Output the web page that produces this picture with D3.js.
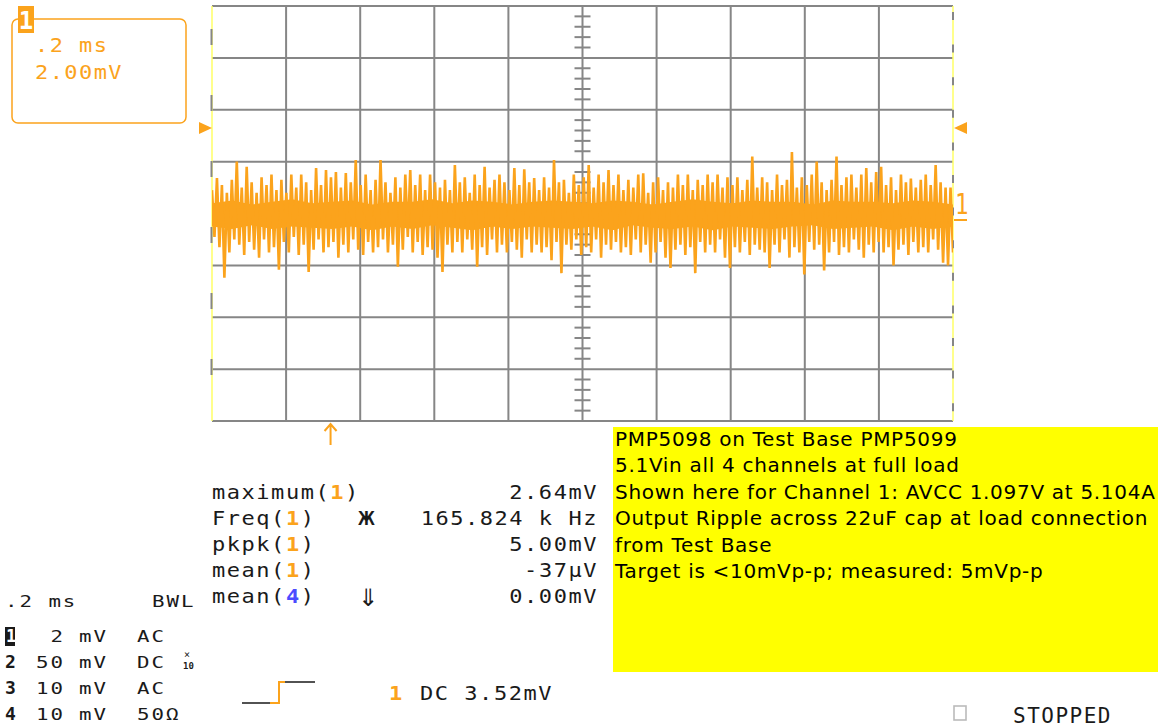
<!DOCTYPE html>
<html><head><meta charset="utf-8">
<script src="https://cdn.jsdelivr.net/npm/d3@7"></script>
<style>
html,body{margin:0;padding:0;background:#fff;}
svg{display:block;}
</style></head><body>
<svg id="c" width="1167" height="728"></svg>
<script>
// ---- data ----
const traceValues = [
0.9,-0.9,1.37,-1.3,1.1,-2.48,0.8,-1.5,1.3,-1.0,2.0,-1.2,1.0,-1.6,1.8,-1.1,1.2,-1.4,0.8,-1.7,
1.4,-1.0,1.1,-1.5,1.5,-1.3,0.9,-2.17,1.3,-1.1,0.8,-1.5,1.5,-0.9,1.0,-1.6,1.5,-1.2,1.2,-2.25,
0.9,-1.4,1.75,-1.0,1.1,-1.5,1.68,-1.3,1.4,-1.1,1.6,-1.7,1.0,-1.2,1.56,-1.5,1.2,-1.0,2.06,-1.4,
1.1,-1.6,1.5,-1.1,0.9,-1.5,1.3,-1.3,2.06,-1.0,1.2,-1.5,0.8,-1.2,1.4,-2.05,1.0,-1.4,1.5,-0.9,
1.68,-1.5,1.1,-1.1,1.5,-1.6,0.9,-1.3,1.5,-1.4,1.2,-1.7,1.0,-2.25,1.3,-1.2,0.9,-1.5,1.87,-1.1,
1.2,-1.5,1.4,-1.0,0.8,-1.4,1.5,-2.05,1.1,-1.3,1.8,-1.6,1.0,-1.0,1.3,-1.5,1.5,-1.2,1.2,-1.5,
0.9,-1.1,1.75,-1.4,1.1,-1.7,1.7,-1.0,1.2,-1.5,1.37,-1.2,0.9,-1.5,1.4,-1.3,1.0,-1.8,2.06,-1.1,
1.2,-2.3,1.3,-1.2,0.8,-1.4,1.5,-1.0,1.1,-1.6,1.4,-1.3,1.87,-1.5,1.0,-1.0,1.5,-1.7,1.2,-1.2,
1.68,-1.4,1.1,-1.1,1.5,-1.5,0.9,-1.3,1.3,-1.6,1.0,-1.0,1.5,-1.5,1.55,-1.2,0.8,-1.9,1.2,-1.5,
1.4,-1.1,0.9,-1.7,1.2,-2.1,1.0,-1.4,1.5,-1.2,1.1,-1.6,1.5,-1.3,0.9,-2.3,1.3,-1.1,1.1,-1.5,
1.5,-1.2,1.2,-1.5,1.5,-1.0,1.0,-1.7,1.4,-2.1,1.1,-1.3,1.4,-1.5,0.9,-1.1,1.3,-1.6,2.2,-1.2,
1.0,-1.4,1.4,-1.5,1.2,-2.1,0.9,-1.2,1.5,-1.5,1.1,-1.0,1.3,-1.7,2.37,-1.3,1.0,-1.5,1.4,-2.35,
1.1,-1.1,1.5,-1.4,2.0,-1.2,1.2,-2.2,0.9,-1.5,1.3,-1.1,2.2,-1.6,1.1,-1.3,1.4,-1.5,1.5,-1.0,
1.0,-1.4,1.5,-1.7,1.75,-1.2,1.2,-1.5,1.6,-1.1,1.8,-1.5,1.1,-1.3,1.4,-2.0,0.9,-1.4,1.5,-1.2,
1.2,-1.6,1.35,-1.1,1.0,-1.5,1.3,-1.3,1.5,-1.5,1.1,-1.0,1.87,-1.4,1.2,-1.9,1.0,-2.0,1.0,-1.5
];
// dense 165 kHz ripple band (solid-looking core of the trace), upper / lower edge
const coreUpper = [0.4,0.5,0.35,0.45,0.55,0.4,0.45,0.5,0.35,0.45,0.45,0.55,0.4,0.5,0.45,0.35,0.45,0.5,0.45,0.4,
  0.5,0.45,0.35,0.45,0.55,0.45,0.4,0.5,0.45,0.45,0.35,0.5,0.45,0.45,0.4,0.5,0.45,0.35];
const coreLower = [-0.5,-0.6,-0.45,-0.6,-0.5,-0.55,-0.6,-0.5,-0.65,-0.5,-0.6,-0.45,-0.55,-0.65,-0.5,-0.6,-0.5,-0.55,-0.6,-0.5,
  -0.65,-0.45,-0.55,-0.6,-0.5,-0.65,-0.5,-0.55,-0.6,-0.5,-0.45,-0.6,-0.55,-0.5,-0.65,-0.5,-0.6,-0.5];
const timeDivs = 10;          // horizontal divisions
const voltDivs = 8;           // vertical divisions
const timePerDiv = 0.2;       // ms/div
const voltsPerDiv = 2;        // mV/div
const minorPerDiv = 5;
const triggerTime = 0.32;     // ms (arrow below grid)
const triggerLevel = 3.3;     // mV (side triangles)
const channelZero = -0.25;    // mV (channel 1 marker)
const boxLines = [".2 ms", "2.00mV"];
const measureLabels = ["maximum(", "Freq(", "pkpk(", "mean(", "mean("];
const measureChannels = ["1", "1", "1", "1", "4"];
const measureSymbols = ["", "Ж", "", "", "⇓"];
const measureValues = ["2.64mV", "165.824 k Hz", "5.00mV", "-37µV", "0.00mV"];
const timebaseLabel = ".2 ms";
const bwlLabel = "BWL";
const chanNums = ["1", "2", "3", "4"];
const chanScale = ["2", "50", "10", "10"];
const chanUnit = ["mV", "mV", "mV", "mV"];
const chanCoupling = ["AC", "DC", "AC", "50Ω"];
const triggerInfo = ["1", "DC 3.52mV"];
const statusLabel = "STOPPED";
const noteLines = [
  "PMP5098 on Test Base PMP5099",
  "5.1Vin all 4 channels at full load",
  "Shown here for Channel 1: AVCC 1.097V at 5.104A",
  "Output Ripple across 22uF cap at load connection",
  "from Test Base",
  "Target is <10mVp-p; measured: 5mVp-p"
];

// ---- drawing ----
const ORANGE = "#fba31c";
const GRID = "#868686";
const INK = "#1a1a1a";
const MONO = "'DejaVu Sans Mono', monospace";
const svg = d3.select("#c");

function mtext(parent, px, py, str, o) {
  o = Object.assign({size: 20, sx: 1.1, ls: 1.4, anchor: "start", fill: INK, weight: "normal"}, o || {});
  const t = parent.append("text")
    .attr("transform", `translate(${px},${py}) scale(${o.sx},1)`)
    .attr("font-family", MONO).attr("font-size", o.size).attr("letter-spacing", o.ls)
    .attr("text-anchor", o.anchor).attr("fill", o.fill).attr("font-weight", o.weight);
  if (str !== null) t.text(str);
  return t;
}

const tMax = timeDivs * timePerDiv;
const vHalf = voltDivs / 2 * voltsPerDiv;
const x = d3.scaleLinear().domain([0, tMax]).range([212, 953]);
const y = d3.scaleLinear().domain([-vHalf, vHalf]).range([421, 6]);

const gGrid = svg.append("g");
gGrid.selectAll("line.v").data(d3.range(1, timeDivs)).join("line")
  .attr("x1", d => x(d * timePerDiv)).attr("x2", d => x(d * timePerDiv))
  .attr("y1", y(vHalf)).attr("y2", y(-vHalf))
  .attr("stroke", GRID).attr("stroke-width", 2);
gGrid.selectAll("line.h").data(d3.range(0, voltDivs + 1)).join("line")
  .attr("x1", x(0)).attr("x2", x(tMax))
  .attr("y1", d => y(-vHalf + d * voltsPerDiv)).attr("y2", d => y(-vHalf + d * voltsPerDiv))
  .attr("stroke", GRID).attr("stroke-width", 2);
gGrid.append("line").attr("x1", x(0)).attr("x2", x(0)).attr("y1", y(vHalf)).attr("y2", y(-vHalf))
  .attr("stroke", "#ffff66").attr("stroke-width", 1.5);
gGrid.append("line").attr("x1", x(tMax)).attr("x2", x(tMax)).attr("y1", y(vHalf)).attr("y2", y(-vHalf))
  .attr("stroke", "#ffff66").attr("stroke-width", 1.5);
gGrid.append("line").attr("x1", x(0) - 0.5).attr("x2", x(0) - 0.5).attr("y1", 29).attr("y2", y(-vHalf))
  .attr("stroke", GRID).attr("stroke-width", 2).attr("stroke-dasharray", "16,50");
gGrid.append("line").attr("x1", x(tMax)).attr("x2", x(tMax)).attr("y1", 12).attr("y2", y(-vHalf))
  .attr("stroke", GRID).attr("stroke-width", 2).attr("stroke-dasharray", "8,24.6");

const yMinor = d3.range(0, voltDivs * minorPerDiv + 1).filter(i => i % minorPerDiv !== 0)
  .map(i => -vHalf + i * voltsPerDiv / minorPerDiv);
const xMinor = d3.range(0, timeDivs * minorPerDiv + 1).filter(i => i % minorPerDiv !== 0)
  .map(i => i * timePerDiv / minorPerDiv);
const cx = x(tMax / 2), cy = y(0);
gGrid.selectAll("line.ty").data(yMinor).join("line")
  .attr("x1", cx - 8).attr("x2", cx + 8).attr("y1", d => y(d)).attr("y2", d => y(d))
  .attr("stroke", GRID).attr("stroke-width", 2);
gGrid.selectAll("line.tx").data(xMinor).join("line")
  .attr("y1", cy - 8).attr("y2", cy + 8).attr("x1", d => x(d)).attr("x2", d => x(d))
  .attr("stroke", GRID).attr("stroke-width", 2);

// trace
svg.append("clipPath").attr("id", "clip").append("rect")
  .attr("x", x(0)).attr("y", y(vHalf)).attr("width", x(tMax) - x(0)).attr("height", y(-vHalf) - y(vHalf));
const nc = coreUpper.length;
const area = d3.area().x((d, i) => x(i * tMax / (nc - 1)))
  .y0((d, i) => y(coreLower[i])).y1(d => y(d));
svg.append("path").datum(coreUpper).attr("d", area).attr("clip-path", "url(#clip)").attr("fill", ORANGE);
const n = traceValues.length;
const line = d3.line().x((d, i) => x(i * tMax / (n - 1))).y(d => y(d));
svg.append("path").datum(traceValues).attr("d", line).attr("clip-path", "url(#clip)")
  .attr("fill", "none").attr("stroke", ORANGE).attr("stroke-width", 2.6).attr("stroke-linejoin", "miter").attr("stroke-miterlimit", 2);

// trigger level triangles
const ty = y(triggerLevel);
svg.append("path").attr("d", `M${x(0)-13},${ty-6} L${x(0)},${ty} L${x(0)-13},${ty+6} Z`).attr("fill", ORANGE);
svg.append("path").attr("d", `M${x(tMax)+14},${ty-6} L${x(tMax)+1},${ty} L${x(tMax)+14},${ty+6} Z`).attr("fill", ORANGE);
mtext(svg, x(tMax) + 2, y(channelZero) - 6, "1", {size: 28, sx: 0.8, ls: 0, fill: ORANGE});
svg.append("line").attr("x1", x(tMax) + 1).attr("x2", x(tMax) + 14)
  .attr("y1", y(channelZero)).attr("y2", y(channelZero)).attr("stroke", ORANGE).attr("stroke-width", 2);
const tx = x(triggerTime), by0 = y(-vHalf);
svg.append("path").attr("d", `M${tx},${by0+3} L${tx},${by0+24} M${tx-6},${by0+10} L${tx},${by0+3} L${tx+6},${by0+10}`)
  .attr("fill", "none").attr("stroke", ORANGE).attr("stroke-width", 2);

// top-left channel box
svg.append("rect").attr("x", 12).attr("y", 19).attr("width", 174).attr("height", 104).attr("rx", 6)
  .attr("fill", "none").attr("stroke", ORANGE).attr("stroke-width", 1.5);
svg.append("rect").attr("x", 18).attr("y", 6).attr("width", 16).attr("height", 27).attr("fill", ORANGE);
svg.append("text").attr("x", 26).attr("y", 29).attr("text-anchor", "middle")
  .attr("font-family", MONO).attr("font-weight", "bold").attr("font-size", 24).attr("fill", "#fff").text("1");
boxLines.forEach((d, i) => mtext(svg, 35, 52 + i * 27, d, {fill: ORANGE, ls: 1.3}));

// measurements
measureLabels.forEach((lab, i) => {
  const by = 499 + i * 26;
  const t = mtext(svg, 212, by, null);
  t.append("tspan").text(lab);
  t.append("tspan").attr("font-weight", "bold")
    .attr("fill", measureChannels[i] === "4" ? "#4b4bff" : ORANGE).text(measureChannels[i]);
  t.append("tspan").text(")");
  if (measureSymbols[i] === "⇓")
    svg.append("text").attr("x", 358).attr("y", by + 3).attr("font-family", "'DejaVu Sans'").attr("font-size", 24).attr("fill", INK).text(measureSymbols[i]);
  else if (measureSymbols[i])
    mtext(svg, 358, by, measureSymbols[i], {size: 20, sx: 1.4, ls: 0});
  mtext(svg, 598, by, measureValues[i], {anchor: "end"});
});

// bottom-left channel settings
const bo = {size: 16, sx: 1.3, ls: 1.5};
mtext(svg, 5, 607, timebaseLabel, bo);
mtext(svg, 152, 607, bwlLabel, bo);
chanNums.forEach((c, i) => {
  const by = 642 + i * 26;
  if (i === 0) {
    svg.append("rect").attr("x", 5).attr("y", by - 15).attr("width", 10).attr("height", 19).attr("fill", INK);
    svg.append("text").attr("x", 6).attr("y", by).attr("fill", "#fff").attr("font-weight", "bold")
      .attr("font-family", MONO).attr("font-size", 17).text(c);
  } else {
    svg.append("text").attr("x", 5).attr("y", by).attr("font-weight", "bold").attr("fill", INK)
      .attr("font-family", MONO).attr("font-size", 18).text(c);
  }
  mtext(svg, 65, by, chanScale[i], Object.assign({anchor: "end"}, bo));
  mtext(svg, 79, by, chanUnit[i], bo);
  mtext(svg, 137, by, chanCoupling[i], bo);
});
svg.append("text").attr("x", 184).attr("y", 658).attr("font-family", MONO).attr("font-size", 10).attr("fill", INK).text("×");
svg.append("text").attr("x", 183).attr("y", 669).attr("font-family", MONO).attr("font-size", 9).attr("font-weight", "bold").attr("fill", INK).text("10");

// trigger icon & info
svg.append("path").attr("d", "M242,703 L270,703 M285,682 L315,682").attr("stroke", INK).attr("stroke-width", 1.6).attr("fill", "none");
svg.append("path").attr("d", "M270,703 L279,703 L279,682 L285,682").attr("stroke", ORANGE).attr("stroke-width", 2).attr("fill", "none");
mtext(svg, 389, 700, triggerInfo[0], {fill: ORANGE, weight: "bold"});
mtext(svg, 420, 700, triggerInfo[1]);

// status
svg.append("rect").attr("x", 954).attr("y", 706).attr("width", 12).attr("height", 14)
  .attr("fill", "none").attr("stroke", "#bbb").attr("stroke-width", 1.6);
mtext(svg, 1013, 723, statusLabel, {size: 21, sx: 1.0, ls: 1.5});

// note box
svg.append("rect").attr("x", 613).attr("y", 427).attr("width", 545).attr("height", 245).attr("fill", "#ffff00");
svg.append("g").attr("font-family", "'DejaVu Sans', sans-serif").attr("font-size", 20).attr("fill", "#000")
  .selectAll("text").data(noteLines).join("text")
  .attr("x", 615).attr("y", (d, i) => 446 + i * 26.4).attr("letter-spacing", 0.7).text(d => d);
</script>
</body></html>
